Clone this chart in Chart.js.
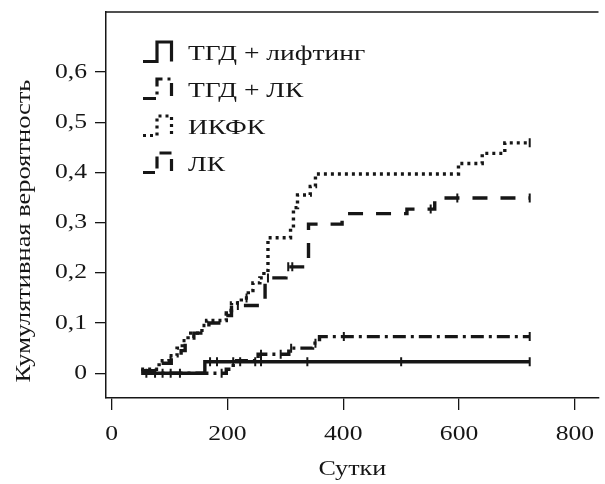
<!DOCTYPE html>
<html>
<head>
<meta charset="utf-8">
<script src="https://cdn.jsdelivr.net/npm/chart.js@4.4.1/dist/chart.umd.min.js"></script>
<style>
  html, body { margin: 0; padding: 0; background: #fff; }
  #wrap { width: 605px; height: 484px; }
</style>
</head>
<body>
<div id="wrap"><canvas id="kmChart" width="605" height="484"></canvas></div>
<script>
// axis ticks
const xTicks = [0, 200, 400, 600, 800];
const yTicks = [0, 0.1, 0.2, 0.3, 0.4, 0.5, 0.6];

const xTitle = "Сутки";
const yTitle = "Кумулятивная вероятность";
const seriesNames = ["ТГД + лифтинг", "ТГД + ЛК", "ИКФК", "ЛК"];

// ТГД + лифтинг
const liftDays = [51, 161, 722];
const liftProb = [0, 0.023, 0.023];
const liftCensor = [60, 75, 88, 102, 118, 170, 182, 210, 222, 248, 258, 338, 500, 722];

// ТГД + ЛК
const tgdLkDays = [55, 198, 210, 253, 306, 347, 359, 722];
const tgdLkProb = [0, 0.008, 0.025, 0.038, 0.05, 0.06, 0.073, 0.073];
const tgdLkCensor = [190, 258, 292, 310, 352, 401, 722];

// ИКФК
const ikfkDays = [51, 82, 99, 113, 122, 132, 156, 164, 198, 207, 224, 236, 244, 256, 263, 270, 309, 314, 321, 343, 352, 599, 640, 679, 722];
const ikfkProb = [0.008, 0.025, 0.035, 0.05, 0.065, 0.08, 0.095, 0.105, 0.125, 0.14, 0.15, 0.165, 0.18, 0.19, 0.205, 0.27, 0.29, 0.33, 0.355, 0.372, 0.397, 0.418, 0.438, 0.459, 0.459];
const ikfkCensor = [233, 722];

// ЛК
const lkDays = [51, 86, 103, 120, 127, 142, 168, 198, 207, 265, 301, 333, 340, 398, 510, 558, 722];
const lkProb = [0.005, 0.02, 0.03, 0.045, 0.07, 0.08, 0.1, 0.115, 0.135, 0.19, 0.212, 0.226, 0.297, 0.318, 0.327, 0.349, 0.349];
const lkCensor = [218, 270, 305, 312, 551, 597, 722];

const ink = "#161616";
const serif = '"Liberation Serif", "DejaVu Serif", serif';

function toPoints(days, probs) {
  return days.map((d, i) => ({ x: d, y: probs[i] }));
}

// value of a step curve at day d (for placing censoring ticks on the line)
function valueAt(days, probs, d) {
  let v = probs[0];
  for (let i = 0; i < days.length; i++) {
    if (days[i] <= d) v = probs[i];
  }
  return v;
}

function censorPoints(days, probs, marks) {
  return marks.map((d) => ({ x: d, y: valueAt(days, probs, d) }));
}

const styles = [
  { dash: [] },
  { dash: [13, 5, 3, 5] },
  { dash: [3, 4] },
  { dash: [15, 13] },
];

const curves = [
  [liftDays, liftProb, liftCensor],
  [tgdLkDays, tgdLkProb, tgdLkCensor],
  [ikfkDays, ikfkProb, ikfkCensor],
  [lkDays, lkProb, lkCensor],
];

const datasets = [];
curves.forEach(([days, probs], i) => {
  datasets.push({
    label: seriesNames[i],
    data: toPoints(days, probs),
    stepped: true,
    borderColor: ink,
    borderWidth: 3.4,
    borderDash: styles[i].dash,
    borderCapStyle: "butt",
    pointRadius: 0,
    fill: false,
  });
});
curves.forEach(([days, probs, marks]) => {
  datasets.push({
    label: "",
    data: censorPoints(days, probs, marks),
    showLine: false,
    pointStyle: "line",
    rotation: 90,
    pointRadius: 4.5,
    borderColor: ink,
    borderWidth: 2,
  });
});

// the reference type is a wide Times, so the text is drawn stretched along its line
function wideText(ctx, text, x, y, opts) {
  ctx.save();
  ctx.translate(x, y);
  if (opts.angle) ctx.rotate(opts.angle);
  ctx.scale(opts.stretch, 1);
  ctx.font = opts.size + "px " + serif;
  ctx.fillStyle = ink;
  ctx.textAlign = opts.align || "left";
  ctx.textBaseline = opts.baseline || "alphabetic";
  ctx.fillText(text, 0, 0);
  ctx.restore();
}

// legend inside the plot with step-shaped icons, tick labels, titles, top frame edge
const textLayer = {
  id: "textLayer",
  afterDraw(chart) {
    const ctx = chart.ctx;
    const a = chart.chartArea;
    const xs = chart.scales.x;
    const ys = chart.scales.y;

    const baselines = [60, 97, 134, 171];
    seriesNames.forEach((name, i) => {
      const b = baselines[i];
      const x0 = 143, x1 = 157, x2 = 171.5;
      const top = b - 18, bot = b + 1.5;
      ctx.save();
      ctx.strokeStyle = ink;
      ctx.lineWidth = 3.2;
      ctx.lineCap = "butt";
      ctx.setLineDash(i === 3 ? [12, 6] : styles[i].dash);
      ctx.beginPath();
      ctx.moveTo(x0, bot);
      ctx.lineTo(x1, bot);
      ctx.lineTo(x1, top);
      ctx.lineTo(x2, top);
      ctx.lineTo(x2, bot);
      ctx.stroke();
      ctx.restore();
      wideText(ctx, name, 188, b, { size: 22, stretch: 1.25 });
    });

    yTicks.forEach((v) => {
      const label = v === 0 ? "0" : v.toFixed(1).replace(".", ",");
      wideText(ctx, label, 87, ys.getPixelForValue(v), {
        size: 21, stretch: 1.22, align: "right", baseline: "middle",
      });
    });
    xTicks.forEach((v) => {
      wideText(ctx, String(v), xs.getPixelForValue(v), 440, {
        size: 21, stretch: 1.22, align: "center",
      });
    });

    wideText(ctx, xTitle, (a.left + a.right) / 2, 475, { size: 21, stretch: 1.24, align: "center" });
    wideText(ctx, yTitle, 30, 231, { size: 21, stretch: 1.26, align: "center", angle: -Math.PI / 2 });

    ctx.save();
    ctx.strokeStyle = ink;
    ctx.lineWidth = 1.5;
    ctx.beginPath();
    ctx.moveTo(a.left, a.top);
    ctx.lineTo(a.right, a.top);
    ctx.stroke();
    ctx.restore();
  },
};

const ctx = document.getElementById("kmChart").getContext("2d");
new Chart(ctx, {
  type: "line",
  data: { datasets },
  plugins: [textLayer],
  options: {
    responsive: false,
    animation: false,
    devicePixelRatio: 1,
    layout: { padding: { top: 12, right: 0, bottom: 0, left: 0 } },
    plugins: {
      legend: { display: false },
      tooltip: { enabled: false },
    },
    scales: {
      x: {
        type: "linear",
        min: -9.7,
        max: 840.8,
        afterBuildTicks: (scale) => {
          scale.ticks = xTicks.map((v) => ({ value: v }));
        },
        afterFit: (scale) => {
          scale.height = 86;
          scale.paddingLeft = 0;
          scale.paddingRight = 0;
        },
        ticks: { display: false },
        grid: {
          drawOnChartArea: false,
          drawTicks: true,
          tickLength: 12,
          color: ink,
          lineWidth: 1.3,
        },
        border: { display: true, color: ink, width: 1.5 },
      },
      y: {
        type: "linear",
        min: -0.0493,
        max: 0.7197,
        afterBuildTicks: (scale) => {
          scale.ticks = yTicks.map((v) => ({ value: v }));
        },
        afterFit: (scale) => {
          scale.width = 106;
          scale.paddingTop = 0;
          scale.paddingBottom = 0;
        },
        ticks: { display: false },
        grid: {
          drawOnChartArea: false,
          drawTicks: true,
          tickLength: 11,
          color: ink,
          lineWidth: 1.3,
        },
        border: { display: true, color: ink, width: 1.5 },
      },
    },
  },
});
</script>
</body>
</html>
